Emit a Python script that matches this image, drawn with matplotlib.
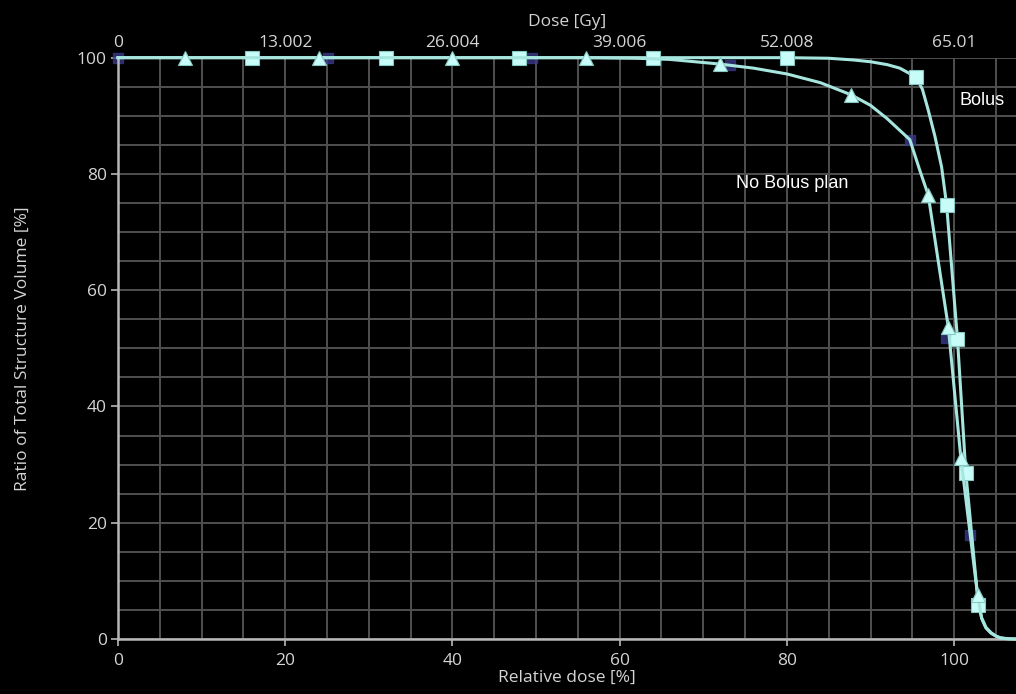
import matplotlib
matplotlib.use("Agg")
import matplotlib.pyplot as plt
from matplotlib.ticker import MultipleLocator

# DVH curves, relative dose [%] vs ratio of structure volume [%]
bolus_dose = [0, 16, 32, 48, 64, 80, 85, 88, 90, 92, 93.5, 95.4, 96.2, 96.9,
              97.7, 98.5, 99.1, 100.4, 101.4, 102.9, 103.3, 103.8, 104.4,
              105.0, 105.5, 106.3, 107.4]
bolus_volume = [100, 100, 100, 100, 100, 100, 99.9, 99.6, 99.3, 98.8, 98.2,
                96.7, 94.6, 91.0, 86.5, 81.2, 74.7, 51.6, 28.6, 5.9, 3.6, 2.0,
                1.1, 0.5, 0.2, 0.05, 0]
bolus_marks = [1, 2, 3, 4, 5, 11, 16, 17, 18, 19]

nobolus_dose = [0, 8, 24, 40, 56, 62, 66, 72, 76, 80, 84, 87.7, 90, 92, 93.5,
                94.7, 95.9, 96.9, 98.1, 99.3, 100.8, 102.8, 103.3, 103.8,
                104.4, 105.0, 105.5, 106.3, 107.4]
nobolus_volume = [100, 100, 100, 100, 100, 99.9, 99.7, 98.9, 98.2, 97.2, 95.7,
                  93.6, 91.8, 89.5, 87.5, 85.9, 80.6, 76.4, 65.0, 53.7, 31.2,
                  7.6, 3.5, 1.9, 1.0, 0.5, 0.2, 0.05, 0]
nobolus_marks = [1, 2, 3, 4, 7, 11, 17, 19, 20, 21]

# faint sample points left on the no-bolus curve
sample_dose = [0, 25.1, 49.5, 73.2, 94.7, 99.0, 101.9]
sample_volume = [100, 100, 100, 98.8, 85.9, 51.8, 17.9]

rel_ticks = [0, 20, 40, 60, 80, 100]
volume_ticks = [0, 20, 40, 60, 80, 100]
prescribed_gy = 65.01
dose_ticks_gy = [0, 13.002, 26.004, 39.006, 52.008, 65.01]

TEXT = '#d4d4d4'
GRID = '#505050'
LINE = '#a6e6de'
FILL = '#c8fcf8'

plt.rcParams['font.family'] = ['Open Sans', 'DejaVu Sans']

fig = plt.figure(figsize=(10.16, 6.94), dpi=100, facecolor='black')
ax = fig.add_axes([0.1161, 0.0793, 1.0 - 0.1161, 0.8376])
ax.set_facecolor('black')

ax.plot(sample_dose, sample_volume, ls='none', marker='s', ms=7.5,
        color='#3a3a8c', alpha=0.75, clip_on=False, zorder=2)

ax.plot(bolus_dose, bolus_volume, color=LINE, lw=2.2, marker='s', ms=9.5,
        markevery=bolus_marks, mfc=FILL, mec='#86c8c2', mew=0.8,
        clip_on=False, zorder=3)
ax.plot(nobolus_dose, nobolus_volume, color=LINE, lw=2.2, marker='^', ms=10,
        markevery=nobolus_marks, mfc=FILL, mec='#86c8c2', mew=0.8,
        clip_on=False, zorder=3)

ax.text(103.3, 92.7, 'Bolus', color='white', fontsize=13,
        family='Liberation Sans', ha='center', va='center')
ax.text(80.6, 78.4, 'No Bolus plan', color='white', fontsize=13,
        family='Liberation Sans', ha='center', va='center')

ax.set_xlim(0, 107.4)
ax.set_ylim(0, 100)
ax.set_xticks(rel_ticks)
ax.set_yticks(volume_ticks)
ax.xaxis.set_minor_locator(MultipleLocator(5))
ax.yaxis.set_minor_locator(MultipleLocator(5))
ax.grid(True, which='both', color=GRID, lw=1.4)
ax.set_axisbelow(True)

for side in ['top', 'right']:
    ax.spines[side].set_visible(False)
for side in ['left', 'bottom']:
    ax.spines[side].set_color('#b8b8b8')
    ax.spines[side].set_linewidth(1.8)

ax.tick_params(which='major', colors='#b8b8b8', labelcolor=TEXT,
               labelsize=12.5, length=5, width=1.2)
ax.tick_params(axis='y', pad=3)
ax.tick_params(axis='x', pad=5)
ax.tick_params(which='minor', length=0)

ax.set_xlabel('Relative dose [%]', color=TEXT, fontsize=12.5, labelpad=1)
ax.set_ylabel('Ratio of Total Structure Volume [%]', color=TEXT,
              fontsize=12.5)
ax.yaxis.set_label_coords(-0.0975, 0.5)

top = ax.secondary_xaxis('top', functions=(lambda x: x * prescribed_gy / 100,
                                           lambda g: g * 100 / prescribed_gy))
top.set_xticks(dose_ticks_gy, labels=[f'{g:g}' for g in dose_ticks_gy])
top.tick_params(length=0, pad=5, labelcolor=TEXT, labelsize=12.5)
top.spines['top'].set_visible(False)
top.set_xlabel('Dose [Gy]', color=TEXT, fontsize=12.5, labelpad=6)

fig.savefig('out.png', dpi=100, facecolor='black')
